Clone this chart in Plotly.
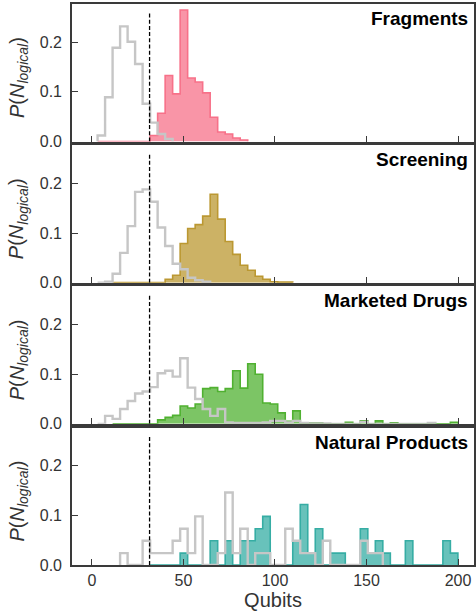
import plotly.graph_objects as go

# ---------------- data ----------------
BIN_EDGES = [3.1, 7.2, 11.3, 15.4, 19.5, 23.6, 27.7, 31.8, 35.9, 40.0, 44.1, 48.2,
             52.3, 56.4, 60.5, 64.6, 68.7, 72.8, 76.9, 81.0, 85.1, 89.2, 93.3, 97.4,
             101.5, 105.6, 109.7, 113.8, 117.9, 122.0, 126.1, 130.2, 134.3, 138.4,
             142.5, 146.6, 150.7, 154.8, 158.9, 163.0, 167.1, 171.2, 175.3, 179.4,
             183.5, 187.6, 191.7, 195.8, 199.9]

PANELS = ["Fragments", "Screening", "Marketed Drugs", "Natural Products"]
THRESHOLD = 31.5          # dashed reference line (qubits)
THRESHOLD_TOP = 0.26

N = None
FRAG_VALUES = [0, 0, 0, 0, 0, 0, 0, 0.012, 0.057, 0.133, 0.096, 0.265, 0.128, 0.120,
               0.098, 0.049, 0.019, 0.015, 0.007, 0.003]
FRAG_REF = [0.012, 0.089, 0.189, 0.232, 0.201, 0.156, 0.076, 0.038, 0.015, 0.005]

SCREEN_VALUES = [N, N, 0, 0, 0, 0, 0, 0, 0, 0.007, 0.015, 0.079, 0.109, 0.117, 0.134,
                 0.178, 0.128, 0.083, 0.057, 0.035, 0.025, 0.013, 0.007, 0.002,
                 0.001, 0.001]
SCREEN_REF = [0, 0.002, 0.018, 0.060, 0.114, 0.183, 0.188, 0.163, 0.111, 0.074,
              0.038, 0.027, 0.010, 0.005, 0.002]

DRUG_VALUES = [N, N, 0, 0, 0, 0, 0, 0, 0.008, 0.013, 0.017, 0.036, 0.032, 0.040,
               0.071, 0.073, 0.065, 0.071, 0.107, 0.072, 0.121, 0.100, 0.042, 0.040,
               0.022, 0.005, 0.026, 0.002, 0.002, 0.002, 0, 0, 0, 0.003, 0, 0.006,
               0, 0.006, 0, 0.002, 0, 0, 0, 0, 0, 0, 0, 0.003]
DRUG_REF = [0, 0.016, 0.010, 0.030, 0.046, 0.061, 0.065, 0.074, 0.102, 0.107, 0.095,
            0.132, 0.073, 0.050, 0.030, 0.016, 0.030, 0.003, 0.002, 0.002, 0.002,
            0.002, 0.003, 0.006, 0.006, 0.003, 0.006, 0.002, 0.001, 0.001, 0.001,
            0, 0, 0, 0, 0.004, 0, 0, 0, 0, 0, 0, 0, 0, 0.002]

NATURAL_VALUES = [N, N, N, N, N, N, N, 0, 0, 0, 0, 0.024, 0, 0, 0, 0.049, 0, 0.049,
                  0, 0.049, 0.049, 0.073, 0.098, 0, 0, 0, 0.049, 0.122, 0.024, 0.073,
                  0, 0.024, 0.024, 0, 0, 0.073, 0.024, 0.049, 0.024, 0, 0, 0.049,
                  0, 0, 0, 0, 0.049, 0.024]
NATURAL_REF = [N, N, N, 0.024, 0, 0, 0.049, 0.024, 0.024, 0.024, 0.049, 0.073, 0.024,
               0.098, 0, 0, 0.024, 0.146, 0.024, 0.073, 0, 0.024, 0.024, 0, 0,
               0.073, 0.049, 0.024, 0.024, 0, 0.049, 0, 0, 0, 0, 0.049, 0.024, 0.024]

SERIES = [FRAG_VALUES, SCREEN_VALUES, DRUG_VALUES, NATURAL_VALUES]
REFS = [FRAG_REF, SCREEN_REF, DRUG_REF, NATURAL_REF]
COLORS = ["#f77189", "#bb9832", "#50b131", "#36ada4"]

X_TICKS = [0, 50, 100, 150, 200]
Y_TICKS = [0, 0.1, 0.2]
Y_TICK_TEXT = ["0.0", "0.1", "0.2"]


def step_path(vals):
    idx = [i for i, v in enumerate(vals) if v is not None]
    s = idx[0]
    nz = [i for i, v in enumerate(vals) if v]
    e = nz[-1]
    xs = [BIN_EDGES[s]] + BIN_EDGES[s:e + 1] + [BIN_EDGES[e + 1]]
    ys = [0] + [vals[i] for i in range(s, e + 1)] + [0]
    return xs, ys


def rgba(hexc, a):
    h = hexc.lstrip("#")
    r, g, b = int(h[0:2], 16), int(h[2:4], 16), int(h[4:6], 16)
    return f"rgba({r},{g},{b},{a})"


# ---------------- layout geometry ----------------
W, H = 476, 613
ML, MR, MT, MB = 72, 0, 4, 48
plot_h = H - MT - MB
panel_px = 137.5
gap_px = (plot_h - 4 * panel_px) / 3
ph = panel_px / plot_h
pg = gap_px / plot_h

AX = "#3a3a3a"
FONT = "Liberation Sans, Arial, sans-serif"

fig = go.Figure()
layout = dict(
    width=W, height=H,
    margin=dict(l=ML, r=MR, t=MT, b=MB, pad=0),
    plot_bgcolor="white", paper_bgcolor="white",
    showlegend=False,
    font=dict(family=FONT, size=16, color="#333333"),
)
annotations = []

for i, name in enumerate(PANELS):
    n = "" if i == 0 else str(i + 1)
    xa, ya = "x" + n, "y" + n
    top = 1 - i * (ph + pg)
    bottom = top - ph

    xs, ys = step_path(SERIES[i])
    fig.add_trace(go.Scatter(
        x=xs, y=ys, xaxis=xa, yaxis=ya, mode="lines",
        line=dict(shape="hv", color=COLORS[i], width=1.6),
        fill="tozeroy", fillcolor=rgba(COLORS[i], 0.75), hoverinfo="skip"))
    gx, gy = step_path(REFS[i])
    fig.add_trace(go.Scatter(
        x=gx, y=gy, xaxis=xa, yaxis=ya, mode="lines",
        line=dict(shape="hv", color="#c6c6c6", width=2.4), hoverinfo="skip"))
    fig.add_trace(go.Scatter(
        x=[THRESHOLD, THRESHOLD], y=[0, THRESHOLD_TOP], xaxis=xa, yaxis=ya,
        mode="lines", line=dict(color="black", width=1.3, dash="4px,2.2px"),
        hoverinfo="skip"))

    last = i == len(PANELS) - 1
    xkey = "xaxis" + n
    ykey = "yaxis" + n
    layout[xkey] = dict(
        domain=[0, 1], anchor=ya, range=[-10.87, 208.7],
        showline=True, mirror=True, linecolor=AX, linewidth=1.6,
        ticks="inside", ticklen=6, tickwidth=1.3, tickcolor=AX,
        tickvals=X_TICKS, showticklabels=last, showgrid=False, zeroline=False,
        tickfont=dict(size=16, color="#333333"),
    )
    if i > 0:
        layout[xkey]["matches"] = "x"
    if last:
        layout[xkey]["title"] = dict(text="Qubits", font=dict(size=20, color="#333333"),
                                     standoff=3)
    layout[ykey] = dict(
        domain=[max(bottom, 0), top], anchor=xa, range=[0, 0.277],
        showline=True, mirror=True, linecolor=AX, linewidth=1.6,
        ticks="inside", ticklen=6, tickwidth=1.3, tickcolor=AX,
        tickvals=Y_TICKS, ticktext=Y_TICK_TEXT, showgrid=False, zeroline=False,
        tickfont=dict(size=16, color="#333333"), ticklabelstandoff=5,
    )
    annotations.append(dict(
        text=f"<b>{name}</b>", xref=xa + " domain", yref=ya + " domain",
        x=0.99, y=1 - 14.5 / panel_px, xanchor="right", yanchor="middle",
        showarrow=False, font=dict(size=19, color="black", family=FONT)))
    annotations.append(dict(
        text="<i>P</i>(<i>N</i><sub><i>logical</i></sub>)",
        xref="paper", yref=ya + " domain", x=(18 - ML) / (W - ML - MR), y=0.5,
        xanchor="center", yanchor="middle", textangle=-90, showarrow=False,
        yshift=-5,
        font=dict(size=20, color="#333333", family=FONT)))

layout["annotations"] = annotations
fig.update_layout(**layout)
fig.write_html(
    "out.html",
    config={"displayModeBar": False},
    post_script="document.documentElement.style.margin='0';"
                "document.body.style.margin='0';document.body.style.overflow='hidden';",
)
